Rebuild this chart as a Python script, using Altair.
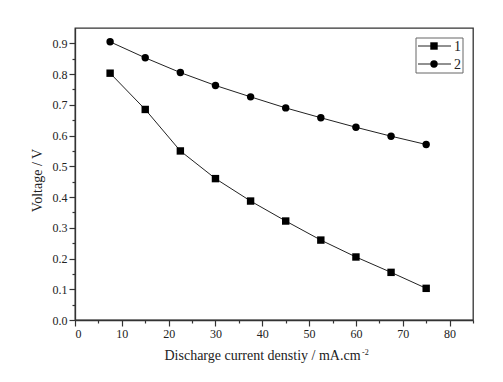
import altair as alt
import pandas as pd

current = [7.5, 15, 22.5, 30, 37.5, 45, 52.5, 60, 67.5, 75]
voltage_1 = [0.803, 0.685, 0.550, 0.460, 0.387, 0.322, 0.260, 0.205, 0.155, 0.103]
voltage_2 = [0.905, 0.853, 0.805, 0.763, 0.726, 0.690, 0.658, 0.627, 0.598, 0.571]
series_names = ["1", "2"]
x_ticks = [0, 5, 10, 15, 20, 25, 30, 35, 40, 45, 50, 55, 60, 65, 70, 75, 80, 85]
y_ticks = [0.0, 0.05, 0.1, 0.15, 0.2, 0.25, 0.3, 0.35, 0.4, 0.45, 0.5, 0.55, 0.6, 0.65, 0.7, 0.75, 0.8, 0.85, 0.9]

rows = []
for name, vals in zip(series_names, [voltage_1, voltage_2]):
    for c, v in zip(current, vals):
        rows.append({"series": name, "x": c, "y": v})
df = pd.DataFrame(rows)

FONT = "Liberation Serif"
W, H = 398, 292

xscale = alt.Scale(domain=[0, 85], nice=False, zero=False)
yscale = alt.Scale(domain=[0, 0.95], nice=False, zero=False)

common = dict(
    grid=False, labelFont=FONT, labelFontSize=12, labelColor="#222", labelPadding=2,
    titleFont=FONT, titleFontSize=14, titleFontWeight="normal", titleColor="#222",
    domainColor="#333", domainWidth=1.3, tickColor="#333", tickWidth=1.2,
)

xaxis = alt.Axis(
    values=x_ticks,
    labelExpr="datum.value % 10 === 0 ? datum.label : ''",
    tickSize={"condition": {"test": "datum.value % 10 === 0", "value": 6}, "value": 3},
    title="Discharge current denstiy / mA.cm",
    titleX=187, titleAlign="center", titleY=39, titleBaseline="alphabetic",
    **common,
)
yaxis = alt.Axis(
    values=y_ticks,
    format=".1f",
    labelExpr="abs(datum.value*10 - round(datum.value*10)) < 0.01 ? datum.label : ''",
    tickSize={"condition": {"test": "abs(datum.value*10 - round(datum.value*10)) < 0.01", "value": 6}, "value": 3},
    title="Voltage / V",
    titleY=152, titleAlign="center", titleX=-34, titleBaseline="alphabetic",
    **common,
)

base = alt.Chart(df).encode(
    x=alt.X("x:Q", scale=xscale, axis=xaxis),
    y=alt.Y("y:Q", scale=yscale, axis=yaxis),
)
lines = base.mark_line(color="#222", strokeWidth=1).encode(detail="series:N")
points = base.mark_point(filled=True, color="black", opacity=1, size=55).encode(
    shape=alt.Shape("series:N", scale=alt.Scale(domain=series_names, range=["square", "circle"]), legend=None)
)

one = pd.DataFrame({"a": [0]})
sup = alt.Chart(one).mark_text(font=FONT, fontSize=8, align="left", baseline="alphabetic", color="#222").encode(
    x=alt.value(287), y=alt.value(327), text=alt.value("-2")
)
legend_box = alt.Chart(one).mark_rect(fill="white", stroke="#666", strokeWidth=1).encode(
    x=alt.value(341), x2=alt.value(388), y=alt.value(10), y2=alt.value(45)
)
legend_layers = [legend_box]
for name, shp, yy in zip(series_names, ["square", "circle"], [18, 36]):
    legend_layers.append(alt.Chart(one).mark_rule(color="#222", strokeWidth=1).encode(
        x=alt.value(343), x2=alt.value(376), y=alt.value(yy)))
    legend_layers.append(alt.Chart(one).mark_point(filled=True, color="black", opacity=1, size=55, shape=shp).encode(
        x=alt.value(359), y=alt.value(yy)))
    legend_layers.append(alt.Chart(one).mark_text(font=FONT, fontSize=14, align="left", baseline="middle", color="#222").encode(
        x=alt.value(379), y=alt.value(yy + 1), text=alt.value(name)))

chart = alt.layer(lines, points, sup, *legend_layers).properties(
    width=W, height=H,
    background="white",
    autosize=alt.AutoSizeParams(type="none"),
    padding={"left": 67, "top": 20, "right": 22, "bottom": 50},
).configure_view(stroke="#333", strokeWidth=1.3)

chart.save("out.html", embed_options={"renderer": "svg", "actions": False})
